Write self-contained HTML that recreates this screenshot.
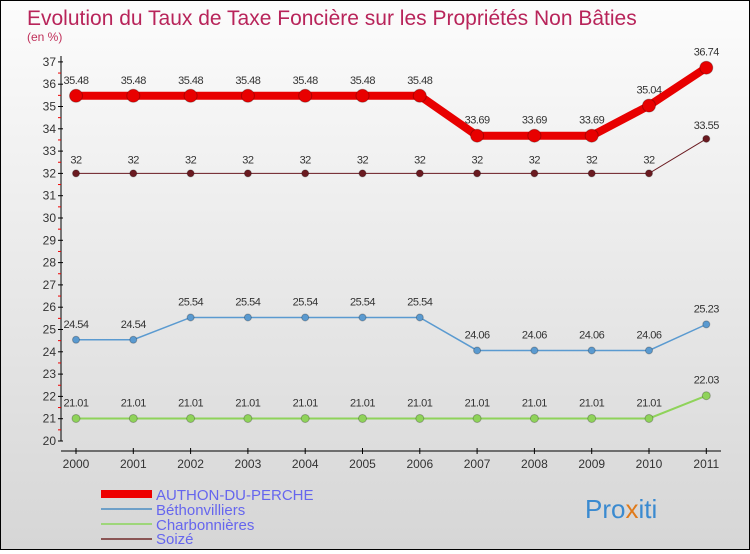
<!DOCTYPE html>
<html><head><meta charset="utf-8"><style>
body{margin:0}
#c{width:748px;height:548px;border:1px solid #000;background:linear-gradient(#fcfcfc,#d6d6d6);position:relative;font-family:"Liberation Sans",sans-serif}
</style></head><body>
<div id="c">
<svg width="748" height="548" id="s">
<text x="26" y="24" font-size="21" fill="#b8245a" font-weight="300">Evolution du Taux de Taxe Foncière sur les Propriétés Non Bâties</text>
<text x="26" y="40" font-size="12" fill="#c0305a">(en %)</text>
<g id="ax"></g><g id="ser"></g>
<g>
<rect x="100" y="489" width="51" height="8" fill="#e00"/>
<text x="155" y="499" font-size="15" fill="#6666ee">AUTHON-DU-PERCHE</text>
<line x1="100" y1="508" x2="151" y2="508" stroke="#6fa0c8" stroke-width="2"/>
<text x="155" y="514" font-size="15" fill="#6666ee">Béthonvilliers</text>
<line x1="100" y1="523" x2="151" y2="523" stroke="#9ed67a" stroke-width="2"/>
<text x="155" y="529" font-size="15" fill="#6666ee">Charbonnières</text>
<line x1="100" y1="538" x2="151" y2="538" stroke="#8a5555" stroke-width="2"/>
<text x="155" y="543" font-size="15" fill="#6666ee">Soizé</text>
</g>
<text x="584" y="517" font-size="26" fill="#3a8ad0">Pro<tspan fill="#e07a1a">x</tspan>iti</text>
</svg></div>
<script>
const years=["2000","2001","2002","2003","2004","2005","2006","2007","2008","2009","2010","2011"];
const authon=[35.48,35.48,35.48,35.48,35.48,35.48,35.48,33.69,33.69,33.69,35.04,36.74];
const bethon=[24.54,24.54,25.54,25.54,25.54,25.54,25.54,24.06,24.06,24.06,24.06,25.23];
const charb=[21.01,21.01,21.01,21.01,21.01,21.01,21.01,21.01,21.01,21.01,21.01,22.03];
const soize=[32,32,32,32,32,32,32,32,32,32,32,33.55];
const yTicks=[20,21,22,23,24,25,26,27,28,29,30,31,32,33,34,35,36,37];
const NS="http://www.w3.org/2000/svg";
const X=i=>75+i*57.3, Y=v=>440-(v-20)*22.3;
function mk(p,t,a){const e=document.createElementNS(NS,t);for(const k in a)e.setAttribute(k,a[k]);p.appendChild(e);return e;}
const ax=document.getElementById('ax'),ser=document.getElementById('ser');
let l=mk(ax,'line',{x1:60,y1:55,x2:60,y2:440,stroke:'#000'});

l=mk(ax,'line',{x1:60,y1:450,x2:720,y2:450,stroke:'#000'});

yTicks.forEach(v=>{mk(ax,'line',{x1:57,x2:62,y1:Y(v),y2:Y(v),stroke:'#000'});
if(v<37)mk(ax,'line',{x1:57,x2:60,y1:Y(v+0.5),y2:Y(v+0.5),stroke:'#e00'});
const t=mk(ax,'text',{x:55,y:Y(v)+4,'text-anchor':'end','font-size':12,fill:'#333'});t.textContent=v;
});
years.forEach((y,i)=>{mk(ax,'line',{x1:X(i),x2:X(i),y1:447,y2:453,stroke:'#000'});
const t=mk(ax,'text',{x:X(i),y:467,'text-anchor':'middle','font-size':12,fill:'#333'});t.textContent=y;
});
function series(d,col,w,r,name,lbl){
const pl=mk(ser,'polyline',{points:d.map((v,i)=>X(i)+','+Y(v)).join(' '),fill:'none',stroke:col,'stroke-width':w});

d.forEach((v,i)=>{const c=mk(ser,'circle',{cx:X(i),cy:Y(v),r:r,fill:col,stroke:'rgba(0,0,0,0.25)'});

const t=mk(ser,'text',{x:X(i),y:Y(v)-lbl,'text-anchor':'middle','font-size':11,fill:'#333','letter-spacing':'-0.5'});t.textContent=String(v);
});}
series(charb,'#8fd35a',2,4,'charbonnieres',12);
series(bethon,'#5a9ad0',1.5,3.5,'bethonvilliers',12);
series(soize,'#6a1a20',1,3.5,'soize',10);
series(authon,'#e80000',8,6.5,'authon',12);
</script>
</body></html>
